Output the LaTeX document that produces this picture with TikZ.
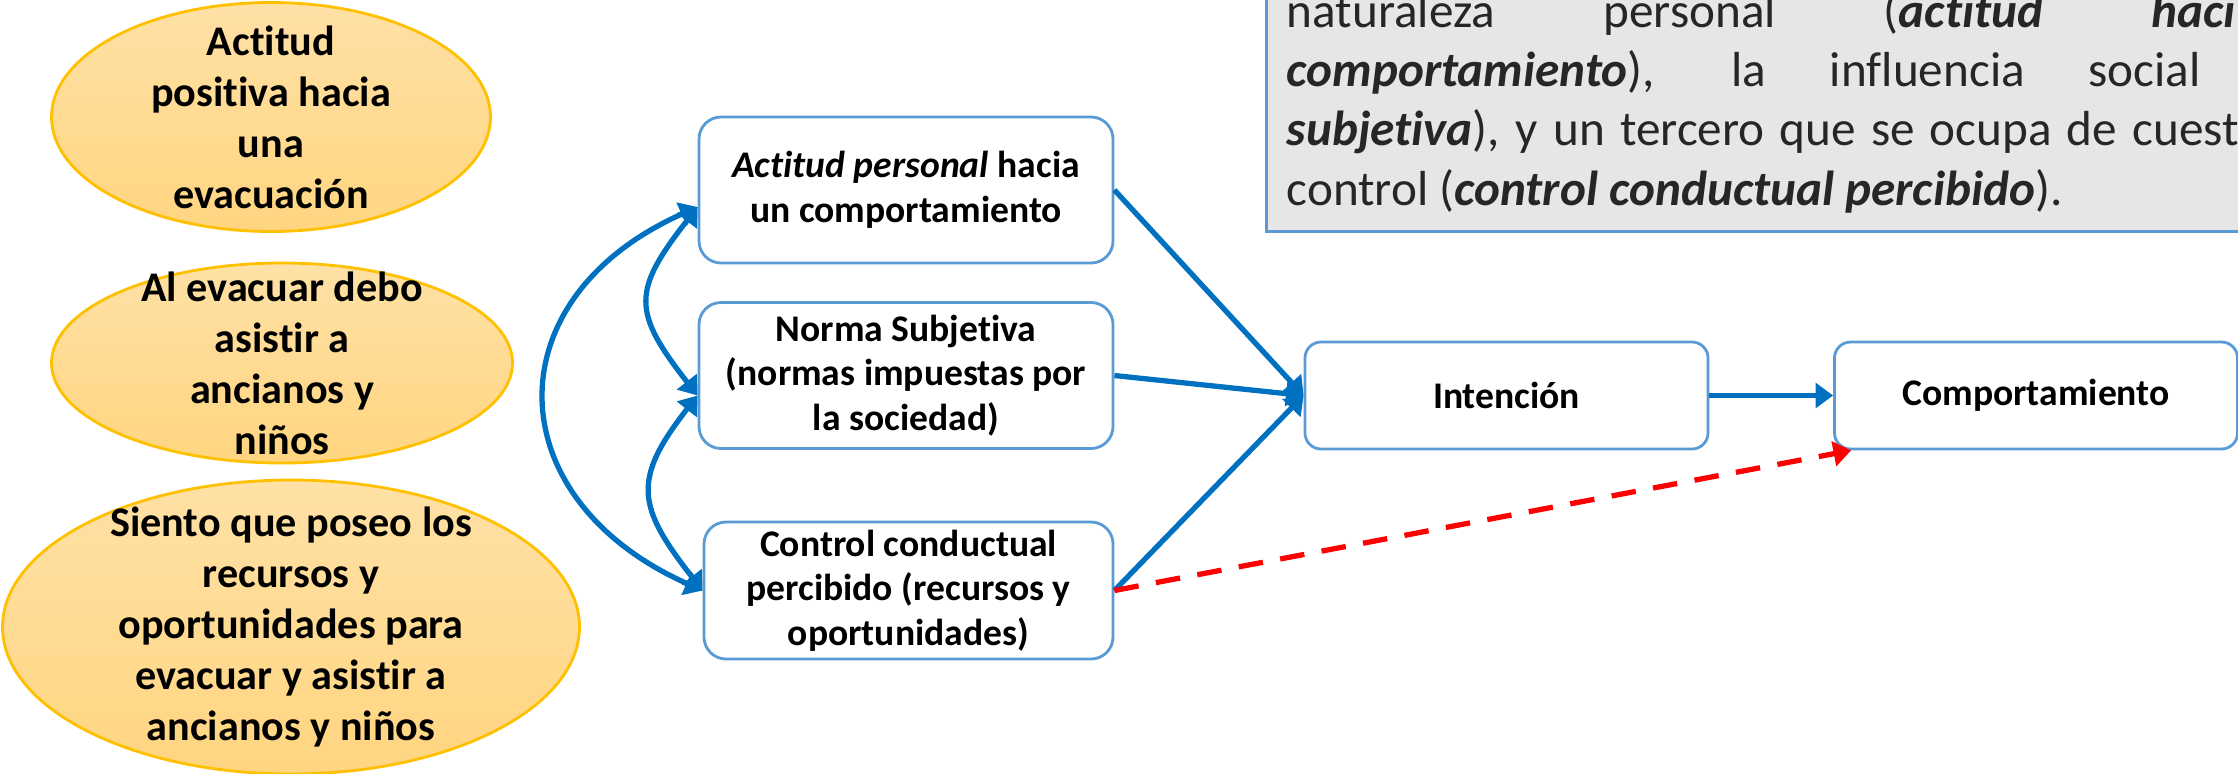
\documentclass[tikz,border=0pt]{standalone}
\usepackage{fontspec}
\setmainfont{Carlito}[Ligatures=NoCommon]
\usepackage{xcolor}
\usetikzlibrary{shapes, arrows.meta, positioning}

\begin{document}
\begin{tikzpicture}[node distance=1.9cm and 6cm, on grid]

\definecolor{my_blue}{RGB}{0,112,192}
\definecolor{my_blue_light}{RGB}{91,155,213}
\definecolor{my_gold}{RGB}{255,192,0}
\definecolor{my_orange_top}{RGB}{255,225,166}
\definecolor{my_orange_bottom}{RGB}{255,213,128}
\definecolor{my_gray_light}{RGB}{230,230,230}
\definecolor{my_gray_dark}{RGB}{38,38,38}
\definecolor{my_red}{RGB}{255,0,0}

\tikzstyle{bubble} = [ellipse, draw=my_gold, line width=0.8pt, top color=my_orange_top, bottom color=my_orange_bottom, inner sep=0pt]
\tikzstyle{bubbletext} = [align=flush center, inner sep=0pt, font=\bfseries\fontsize{12}{14.5}\selectfont]
\tikzstyle{block} = [rectangle, draw=my_blue_light, line width=0.8pt, fill=white, text width=3.9cm, align=flush center, rounded corners=0.22cm, minimum width=4.14cm, minimum height=1.46cm, inner sep=0.05cm, font=\bfseries\fontsize{10.7}{12.7}\selectfont]
\tikzstyle{note} = [rectangle, draw=my_blue_light, line width=0.8pt, fill=my_gray_light]
\tikzstyle{notetext} = [align=left, inner sep=0pt, text=my_gray_dark, font=\fontsize{14}{16.8}\selectfont]
\tikzstyle{line} = [draw, line width=1.5pt, my_blue, -{Triangle[length=5pt, width=7pt]}]
\tikzstyle{twoway} = [line, {Triangle[length=5pt, width=7pt]}-{Triangle[length=5pt, width=7pt]}]
\tikzstyle{direct} = [line, my_red, dash pattern=on 7pt off 5pt]

	\useasboundingbox (0,0) rectangle (22.38,-7.73);
	\clip (0,0) rectangle (22.38,-7.73);

	% cuadro de texto (cortado)
	\node [note, anchor=south west, minimum width=10cm, minimum height=2.8cm] (nota) at (12.65,-2.33) {};
	\node [notetext, anchor=base west] (nota_texto) at (12.86,-2.05) {\makebox[9.49cm][s]{naturaleza personal (\textbf{\textit{actitud}} \textbf{\textit{haci}}}\\
		\makebox[9.14cm][s]{\textbf{\textit{comportamiento}}), la influencia social}\\
		\makebox[9.52cm][s]{\textbf{\textit{subjetiva}}), y un tercero que se ocupa de cuest}\\
		control (\textbf{\textit{control conductual percibido}}).};

	% creencias
	\node [bubble, minimum width=4.39cm, minimum height=2.29cm] (b_actitud) at (2.71,-1.17) {};
	\node [bubbletext] (t_actitud) at (b_actitud) {Actitud\\positiva hacia\\una\\evacuación};

	\node [bubble, minimum width=4.61cm, minimum height=2.0cm] (b_norma) at (2.82,-3.63) {};
	\node [bubbletext] (t_norma) at (b_norma) {Al evacuar debo\\asistir a\\ancianos y\\niños};

	\node [bubble, minimum width=5.77cm, minimum height=2.94cm] (b_control) at (2.91,-6.27) {};
	\node [bubbletext] (t_control) at (b_control) {Siento que poseo los\\recursos y\\oportunidades para\\evacuar y asistir a\\ancianos y niños};

	% modelo
	\node [block] (actitud) at (9.06,-1.9) {\textit{Actitud personal} hacia\\un comportamiento};

	\node [block, below=1.855cm of actitud] (norma) {Norma Subjetiva\\(normas impuestas por\\la sociedad)};

	\node [block, below=2.15cm of norma, xshift=0.025cm, minimum width=4.09cm, minimum height=1.37cm] (control) {Control conductual\\percibido (recursos y\\oportunidades)};

	\node [block, below right=0.2cm and 6.005cm of norma, minimum width=4.03cm, minimum height=1.07cm, rounded corners=0.16cm] (intencion) {Intención};

	\node [block, right=5.295cm of intencion, minimum width=4.03cm, minimum height=1.07cm, rounded corners=0.16cm] (comport) {Comportamiento};

	\coordinate (pa) at ([yshift=-0.17cm]actitud.west);
	\coordinate (pn) at ([yshift=-0.2cm]norma.west);
	\coordinate (pc) at (control.west);

	\path [line] (actitud.east) -- (intencion.west);
	\path [line] (norma.east) -- (intencion.west);
	\path [line] (control.east) -- (intencion.west);
	\path [line] (intencion) -- (comport);
	\path [direct] (control.east) -- ([xshift=0.18cm]comport.south west);

	\path [twoway] (pa) to [out=204, in=156, looseness=1.5] (pc);
	\path [twoway] (pa) to [out=232, in=128, looseness=1.45] (pn);
	\path [twoway] (pn) to [out=232, in=128, looseness=1.4] (pc);

\end{tikzpicture}
\end{document}
